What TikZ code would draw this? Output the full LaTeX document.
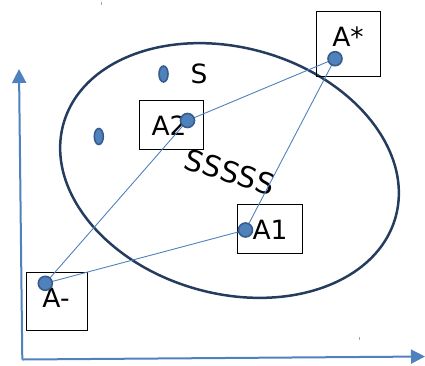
\documentclass[tikz,border=0pt]{standalone}
\usepackage{fontspec}
\setmainfont{DejaVu Sans}
\usetikzlibrary{arrows.meta,shapes.geometric}
\definecolor{ptblue}{HTML}{4F81BD}
\definecolor{ptborder}{HTML}{385D8A}
\definecolor{ellnavy}{HTML}{243D5E}
\tikzset{
  lbl/.style={font=\fontsize{26.5}{30}\selectfont, inner sep=0pt, text=black},
  boxn/.style={draw=black, line width=1pt, rectangle, inner sep=0pt},
  bigdot/.style={circle, fill=ptblue, draw=ptborder, line width=1.6pt, minimum size=14pt, inner sep=0pt},
  smalldot/.style={ellipse, fill=ptblue, draw=ptborder, line width=1.6pt, minimum width=9pt, minimum height=16pt, inner sep=0pt},
  link/.style={draw=ptblue, line width=0.9pt},
  axis/.style={draw=ptblue, line width=2pt, -{Triangle[length=14pt,width=14pt]}},
}
\begin{document}
\begin{tikzpicture}[x=1pt,y=-1pt]
\useasboundingbox (0,0) rectangle (425,365);
% axes
\coordinate (o) at (22.3,359.5);
\coordinate (ytip) at (19,69);
\coordinate (xtip) at (425,356.5);
\draw[axis] (o) -- (ytip);
\draw[axis] (o) -- (xtip);
% tiny marks
\draw[gray!70, line width=0.6pt] (101.7,2) -- (101.7,5);
\draw[gray!70, line width=0.6pt] (359,337) -- (359,340);
% big ellipse
\draw[ellnavy, line width=2.5pt, rotate around={-15.8:(229.5,170.5)}] (229.5,170.5) ellipse [x radius=172.5pt, y radius=123pt];
% boxes
\node[boxn, minimum width=64pt, minimum height=65pt] (bstar) at (348,43.5) {};
\node[boxn, minimum width=64pt, minimum height=49pt] (b2) at (171,124.5) {};
\node[boxn, minimum width=65pt, minimum height=49pt] (b1) at (269.5,228.5) {};
\node[boxn, minimum width=61pt, minimum height=58pt] (bm) at (56.5,301) {};
% labels
\node[lbl] (tstar) at (348,37) {A*};
\node[lbl] (t2) at (169,126) {A2};
\node[lbl] (t1) at (270,230) {A1};
\node[lbl] (tm) at (56,298) {A-};
\node[lbl] (ts) at (199,74) {S};
\node[lbl, font=\fontsize{29}{32}\selectfont, rotate=-17.5] (tsss) at (230,172) {SSSSS};
% dots
\coordinate (pstar) at (335,58.7);
\coordinate (p2) at (187.5,120.5);
\coordinate (p1) at (245.5,230);
\coordinate (pm) at (45.3,283.3);
\draw[link] (pm) -- (p2);
\draw[link] (pm) -- (p1);
\draw[link] (p1) -- (pstar);
\draw[link] (p2) -- (pstar);
\node[bigdot] (dstar) at (pstar) {};
\node[bigdot] (d2) at (p2) {};
\node[bigdot] (d1) at (p1) {};
\node[bigdot] (dm) at (pm) {};
\node[smalldot] (s1) at (163.5,74) {};
\node[smalldot] (s2) at (98.8,136.5) {};
\end{tikzpicture}
\end{document}
